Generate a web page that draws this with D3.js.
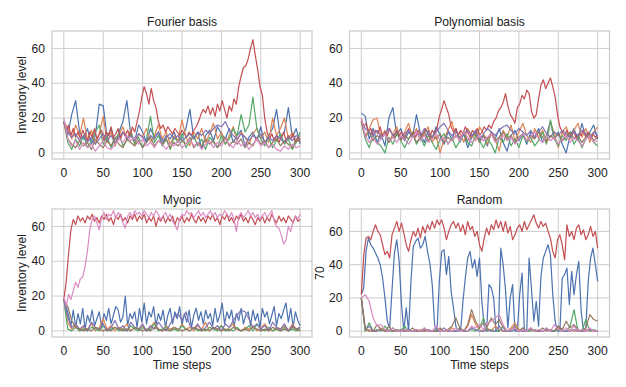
<!DOCTYPE html>
<html>
<head>
<meta charset="utf-8">
<script src="https://cdn.jsdelivr.net/npm/d3@7"></script>
<style>
body { margin: 0; background: #fff; }
text { font-family: Arial, "Liberation Sans", sans-serif; fill: #222; }
</style>
</head>
<body>
<svg id="chart" width="626" height="387"></svg>
<script>
// time axis runs 0..300, each series is sampled evenly over it
const timeTicks = [0, 50, 100, 150, 200, 250, 300];
const levelTicks = [0, 20, 40, 60];
const panelTitles = ["Fourier basis", "Polynomial basis", "Myopic", "Random"];
const seriesColors = ["#4C72B0", "#DD8452", "#55A868", "#C44E52", "#8172B3", "#937860", "#DA8BC3"];

// ---- Fourier basis ----
const fourierBlue = [18,10,22,30,12,8,14,5,10,28, 27,9,14,4,12,18,30,10,7,16, 12,6,14,9,12,5,10,8,12,6, 9,14,25,8,12,2,10,13,7,15, 11,8,14,6,10,13,4,9,12,7, 15,5,10,14,25,8,12,26,9,14, 5];
const fourierOrange = [18,14,8,16,10,20,7,13,5,11, 21,6,12,4,10,15,8,13,5,11, 9,14,6,10,16,8,12,5,10,7, 19,9,4,12,8,14,6,11,17,8, 12,5,10,15,7,12,9,5,11,14, 8,12,6,20,10,14,20,8,12,6, 10];
const fourierGreen = [18,6,2,8,4,10,3,7,12,16, 5,9,3,8,11,4,7,12,5,9, 3,8,21,6,10,4,8,2,9,6, 11,3,7,10,4,8,2,9,6,3, 10,5,8,14,10,22,12,16,32,14, 8,4,9,3,7,11,5,8,2,6, 12];
const fourierRed = [18,12,16,10,14,9,12,8,13,10, 7,12,9,14,8,11,13,7,12,10, 15,9,11,14,8,12,10,13,9,15,
  12,18,24,32,38,34,28,37,30,26, 18,14,16,12,15,13,11,14,12,10, 13,11,9,12,10,13,15,18,22,25,
  23,27,22,26,21,28,24,30,25,20, 27,24,31,28,38,44,49,50,54,60, 65,56,48,38,33,20,12,8,11,7,
  10,6,9,12,7,10,8,11,6,9, 7];
const fourierPurple = [18,12,9,11,7,10,6,9,5,8, 11,7,10,6,9,12,8,10,7,11, 9,6,10,8,12,7,9,11,8,10, 7,9,11,8,12,10,13,11,14,16, 15,18,13,10,8,11,9,7,10,8, 11,6,9,7,10,8,6,9,7,10, 8];
const fourierBrown = [18,8,5,3,7,4,6,2,8,5, 3,7,4,9,5,3,8,6,4,7, 3,6,9,4,7,5,8,3,6,4, 7,5,9,3,6,4,8,5,7,3, 6,9,4,7,5,8,3,6,4,9, 5,7,3,6,8,4,7,5,3,8, 6];
const fourierPink = [20,8,4,7,2,6,3,5,1,4, 7,3,2,5,8,6,10,7,9,5, 8,4,6,3,7,5,2,6,4,7, 3,5,8,4,6,2,5,7,3,6, 4,8,5,3,7,4,6,2,5,8, 4,6,3,5,2,1,4,2,5,3, 4];

// ---- Polynomial basis ----
const polyBlue = [23,21,8,14,6,11,4,20,26,10, 14,7,12,9,22,11,6,13,8,15, 10,5,12,8,14,6,11,3,9,13, 7,10,4,12,8,14,6,1,10,13, 7,11,5,12,9,14,6,10,18,8, 12,5,0,10,14,7,17,9,12,16, 8];
const polyOrange = [18,10,14,19,20,9,13,6,11,15, 8,12,17,9,14,7,11,15,6,10, 0,8,13,18,9,12,6,14,10,7, 15,11,5,12,8,1,13,9,16,7, 12,17,10,6,14,9,13,7,18,11, 3,12,15,8,13,17,9,14,6,12, 15];
const polyGreen = [18,8,3,10,6,4,0,9,5,11, 7,3,8,12,5,9,4,10,6,2, 8,11,5,9,3,7,12,6,4,10, 7,3,8,5,0,9,6,11,4,8, 3,10,6,9,4,7,12,5,19,8, 4,10,7,12,5,9,3,8,11,6, 4];
const polyRed = [20,15,17,12,14,10,13,11,15,9, 12,10,14,11,9,13,10,12,8,11, 14,10,12,9,13,11,10,14,12,9,
  13,11,14,21,25,30,26,22,15,12, 14,10,13,11,15,12,9,13,11,14, 10,12,15,13,16,14,18,20,24,26,
  29,34,27,22,20,17,26,28,33,31, 36,34,24,20,22,31,39,42,37,40, 43,38,32,22,15,12,10,13,9,11,
  12,8,11,10,13,9,12,8,11,9, 10];
const polyPurple = [18,14,12,10,13,9,11,14,10,12, 8,11,13,9,12,10,14,11,9,12, 15,17,13,10,12,9,11,13,10,12, 8,11,14,12,10,13,15,16,13,11, 14,12,10,13,9,12,15,11,9,12, 10,13,11,9,12,10,13,11,9,12, 10];
const polyBrown = [18,9,12,7,10,8,11,6,9,12, 7,10,8,11,6,9,12,7,10,8, 11,6,9,7,10,8,12,7,9,11, 6,10,8,11,7,9,12,8,10,6, 9,11,7,10,8,12,9,6,10,8, 11,7,9,12,8,10,6,9,11,7, 9];
const polyPink = [20,10,6,9,5,8,11,7,9,6, 10,8,5,9,12,7,10,6,8,11, 7,9,5,8,10,7,12,9,6,8, 10,7,9,11,6,8,10,7,9,5, 8,11,7,9,12,8,6,10,7,9, 5,8,10,6,9,7,4,8,10,6, 7];

// ---- Myopic ----
const myopicBlue = [18,14,9,3,12,2,10,4,13,1, 9,5,12,3,7,11,2,10,6,13, 4,9,14,12,5,8,20,3,10,7,
  11,2,13,5,16,4,11,8,14,3, 10,6,12,2,9,13,4,11,7,14, 3,10,5,12,2,9,13,6,11,4,
  12,7,10,3,13,5,9,16,4,11, 7,12,2,10,6,13,4,9,11,3, 12,6,10,2,13,8,11,4,9,14,
  3,10,7,12,16,5,13,2,11,6, 3];
const myopicOrange = [18,5,1,3,0,2,1,4,0,2, 7,1,3,0,2,1,4,0,2,1, 3,0,2,5,1,0,3,1,2,0, 4,1,2,0,3,1,5,0,2,1, 3,0,2,4,1,0,2,1,3,0, 2,4,1,0,2,1,3,0,4,1, 2];
const myopicGreen = [18,1,0,2,0,1,0,2,1,0, 3,0,1,2,0,1,0,3,1,0, 2,0,1,4,0,1,2,0,1,0, 3,1,0,2,0,1,0,2,1,0, 3,0,1,0,2,0,1,3,0,4, 1,0,2,0,1,0,2,0,1,0, 1];
const myopicRed = [18,28,44,58,64,61,66,63,65,62, 66,64,67,63,65,62,66,64,67,63, 65,61,66,64,67,63,65,62,66,64,
  67,63,66,64,67,62,65,63,66,60, 65,63,66,62,65,63,66,61,65,63, 66,62,65,63,67,64,62,66,63,65,
  62,66,64,67,63,65,61,66,64,67, 63,65,62,66,64,67,63,65,62,66, 64,61,65,63,66,62,65,63,67,64,
  62,66,63,65,62,66,64,62,66,63, 64];
const myopicPurple = [18,8,2,4,1,3,0,5,2,1, 4,0,2,6,1,3,0,5,2,1, 4,0,3,1,5,2,0,4,8,10, 6,11,3,1,4,0,2,5,1,3, 0,4,2,6,9,12,11,7,2,4, 1,3,0,5,2,1,4,0,3,1, 2];
const myopicBrown = [18,14,6,2,1,0,1,0,2,1, 0,1,0,2,1,0,1,0,2,1, 0,1,0,2,1,0,1,0,2,1, 0,1,0,2,1,0,1,0,2,1, 0,1,0,2,1,0,1,0,2,1, 0,1,0,2,1,0,1,0,2,1, 0];
const myopicPink = [20,14,21,18,23,28,25,30,31,37, 46,58,64,66,62,58,65,68,64,67, 66,69,65,68,66,62,59,66,68,65,
  69,67,68,66,69,67,65,68,66,69, 67,64,66,68,65,67,63,61,58,64, 67,66,69,67,68,65,67,69,66,68,
  65,67,69,66,68,65,67,66,69,67, 65,68,64,57,66,68,65,67,69,66, 68,65,67,64,66,68,65,67,69,63,
  60,59,55,50,52,60,57,63,66,64, 67];

// ---- Random ----
const randomBlue = [22,26,48,56,52,50,47,44,40,32, 20,6,2,25,47,55,42,16,0,14, 0,30,51,54,56,50,52,57,48,41,
  28,4,0,30,48,49,34,45,24,14, 3,0,0,18,32,44,48,38,43,33, 44,18,3,0,28,26,20,0,0,50,
  40,25,2,20,28,0,0,22,35,0, 0,44,25,6,18,3,33,44,48,52, 46,22,6,0,0,32,34,38,16,36,
  22,34,42,12,0,2,30,44,50,40, 30];
const randomOrange = [20,0,1,0,0,2,0,1,0,0, 0,1,0,0,0,1,0,0,0,0, 1,0,0,2,0,1,0,3,10,4, 1,0,2,0,3,1,0,0,2,5, 1,0,0,1,0,0,0,1,0,0, 2,0,0,1,0,0,0,1,0,0, 0];
const randomGreen = [20,0,5,0,1,0,3,0,0,1, 0,3,0,0,1,0,2,0,0,1, 0,0,1,0,0,2,0,0,1,0, 2,8,0,1,0,0,3,0,0,1, 0,2,0,0,1,0,0,2,0,0, 1,0,0,3,13,0,0,7,0,1, 0];
const randomRed = [22,45,56,57,55,60,64,60,58,52, 46,48,44,58,62,66,60,65,59,52, 48,55,60,57,62,56,63,59,64,61,
  66,62,67,64,67,62,55,60,64,66, 62,65,60,64,58,66,61,63,57,60, 52,48,56,62,58,64,61,67,62,66,
  60,66,59,63,55,58,62,64,60,66, 61,64,67,70,65,62,66,63,65,60, 56,48,44,55,58,52,43,64,57,60,
  55,62,64,58,61,55,58,63,57,60, 50];
const randomPurple = [20,1,3,0,0,1,0,0,2,0, 0,0,1,0,0,0,0,1,0,0, 0,2,0,0,0,1,0,0,2,1, 0,0,1,0,0,3,0,0,0,1, 0,0,0,2,0,0,0,1,0,0, 3,0,0,0,1,0,0,0,1,0, 0];
const randomBrown = [20,2,0,0,4,1,0,3,0,0, 1,0,0,2,0,0,1,0,0,0, 2,0,1,3,8,2,0,4,13,6, 2,5,3,8,4,7,2,0,1,3, 0,2,0,1,0,0,2,0,1,0, 3,1,6,2,4,1,0,2,10,7, 6];
const randomPink = [20,22,18,8,3,4,1,0,2,0, 0,1,0,0,1,0,2,0,0,3, 0,0,1,0,2,0,1,0,3,2, 4,1,5,6,8,10,4,0,1,2, 0,1,0,2,0,1,0,2,0,4, 1,0,2,0,3,0,1,0,2,0, 0];

const svg = d3.select("#chart");
svg.append("rect").attr("width", 626).attr("height", 387).attr("fill", "#fff");

const panels = [
    { title: panelTitles[0], left: 52, top: 31, yMax: 70, ylabel: "Inventory level", xlabel: null,
      series: [fourierBlue, fourierOrange, fourierGreen, fourierRed, fourierPurple, fourierBrown, fourierPink] },
    { title: panelTitles[1], left: 349.5, top: 31, yMax: 70, ylabel: null, xlabel: null,
      series: [polyBlue, polyOrange, polyGreen, polyRed, polyPurple, polyBrown, polyPink] },
    { title: panelTitles[2], left: 52, top: 209, yMax: 70, ylabel: "Inventory level", xlabel: "Time steps",
      series: [myopicBlue, myopicOrange, myopicGreen, myopicRed, myopicPurple, myopicBrown, myopicPink] },
    { title: panelTitles[3], left: 349.5, top: 209, yMax: 73.5, ylabel: "70", xlabel: "Time steps",
      series: [randomBlue, randomOrange, randomGreen, randomRed, randomPurple, randomBrown, randomPink] }
];

const panelW = 260, panelH = 128;
const fontSize = 12.1;

panels.forEach(p => drawPanel(p));

function drawPanel(p) {
    const g = svg.append("g").attr("transform", `translate(${p.left},${p.top})`);

    const x = d3.scaleLinear().domain([-15, 315]).range([0, panelW]);
    const y = d3.scaleLinear().domain([-3.5, p.yMax]).range([panelH, 0]);

    // grid
    g.selectAll(".vgrid").data(timeTicks).enter().append("line")
        .attr("x1", d => x(d)).attr("x2", d => x(d))
        .attr("y1", 0).attr("y2", panelH)
        .attr("stroke", "#cccccc").attr("stroke-width", 1);
    g.selectAll(".hgrid").data(levelTicks).enter().append("line")
        .attr("y1", d => y(d)).attr("y2", d => y(d))
        .attr("x1", 0).attr("x2", panelW)
        .attr("stroke", "#cccccc").attr("stroke-width", 1);

    // lines
    g.selectAll(".series").data(p.series).enter().append("path")
        .attr("fill", "none")
        .attr("stroke", (d, i) => seriesColors[i])
        .attr("stroke-width", 1.2)
        .attr("stroke-linejoin", "round")
        .attr("d", d => d3.line()
            .x((v, i) => x(i * 300 / (d.length - 1)))
            .y(v => y(v))(d));

    // frame
    g.append("rect").attr("width", panelW).attr("height", panelH)
        .attr("fill", "none").attr("stroke", "#cccccc").attr("stroke-width", 1.25);

    // tick labels
    g.selectAll(".xt").data(timeTicks).enter().append("text")
        .attr("x", d => x(d)).attr("y", panelH + 17.5)
        .attr("text-anchor", "middle").attr("font-size", fontSize)
        .text(d => d);
    g.selectAll(".yt").data(levelTicks).enter().append("text")
        .attr("x", -7).attr("y", d => y(d)).attr("dy", "0.35em")
        .attr("text-anchor", "end").attr("font-size", fontSize)
        .text(d => d);

    g.append("text").attr("x", panelW / 2).attr("y", -5.5)
        .attr("text-anchor", "middle").attr("font-size", fontSize)
        .text(p.title);

    if (p.ylabel) {
        g.append("text")
            .attr("transform", `translate(${-26},${panelH / 2}) rotate(-90)`)
            .attr("text-anchor", "middle").attr("font-size", fontSize)
            .text(p.ylabel);
    }
    if (p.xlabel) {
        g.append("text").attr("x", panelW / 2).attr("y", panelH + 31.5)
            .attr("text-anchor", "middle").attr("font-size", fontSize)
            .text(p.xlabel);
    }
}
</script>
</body>
</html>
